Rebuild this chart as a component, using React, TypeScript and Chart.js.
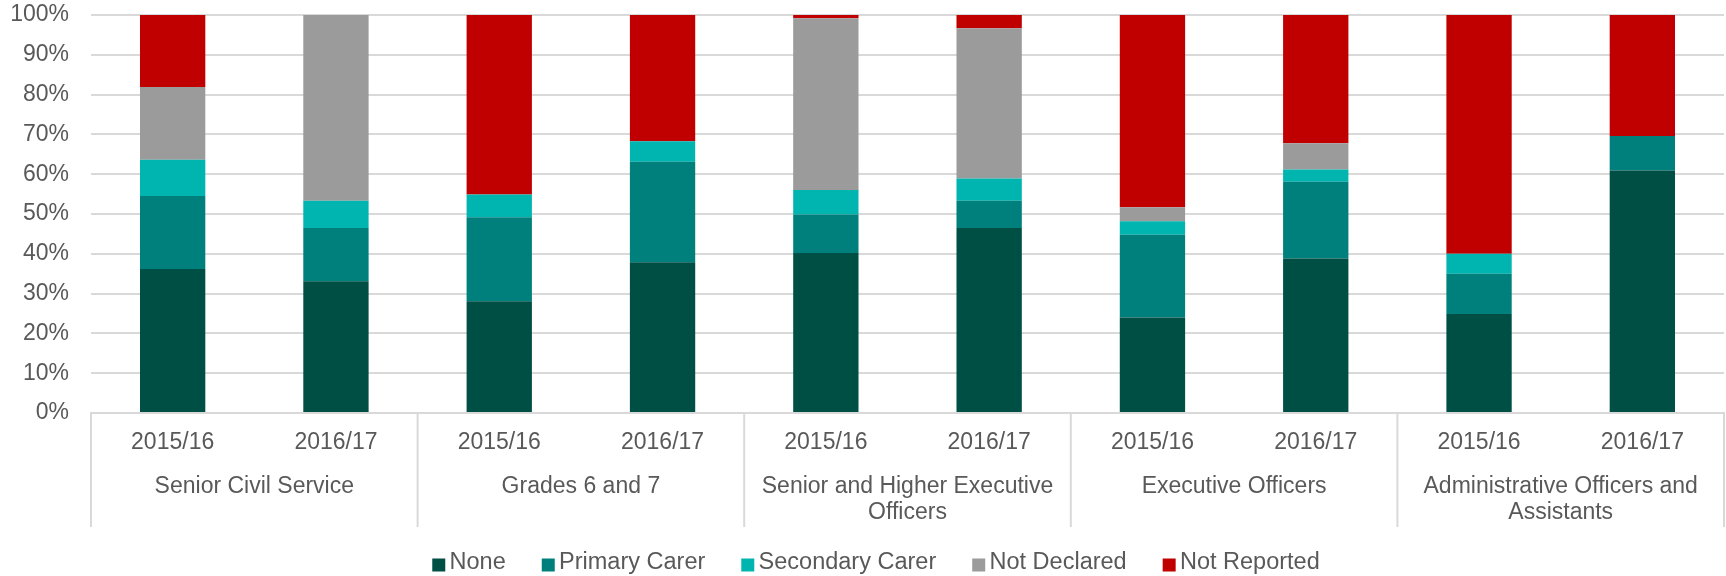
import React, { useEffect, useRef } from 'react';
import { Chart, registerables } from 'chart.js';

Chart.register(...registerables);

// ---------- data ----------
const years: string[] = [
  '2015/16', '2016/17', '2015/16', '2016/17', '2015/16',
  '2016/17', '2015/16', '2016/17', '2015/16', '2016/17',
];
const groups: string[][] = [
  ['Senior Civil Service'],
  ['Grades 6 and 7'],
  ['Senior and Higher Executive', 'Officers'],
  ['Executive Officers'],
  ['Administrative Officers and', 'Assistants'],
];
const seriesNames: string[] = ['None', 'Primary Carer', 'Secondary Carer', 'Not Declared', 'Not Reported'];
const seriesColors: string[] = ['#004F45', '#00807D', '#00B5B0', '#9B9B9B', '#C00000'];

const none: number[] = [36.2, 33.1, 28.1, 37.9, 40.2, 46.5, 24.0, 38.8, 24.9, 60.9];
const primaryCarer: number[] = [18.3, 13.4, 21.1, 25.2, 9.7, 6.8, 20.8, 19.3, 10.1, 8.7];
const secondaryCarer: number[] = [9.1, 6.8, 5.7, 5.2, 6.1, 5.6, 3.4, 3.1, 5.0, 0];
const notDeclared: number[] = [18.3, 46.7, 0, 0, 43.2, 37.8, 3.5, 6.6, 0, 0];
const notReported: number[] = [18.1, 0, 45.1, 31.7, 0.8, 3.3, 48.3, 32.2, 60.0, 30.4];

const yTicks: number[] = [0, 10, 20, 30, 40, 50, 60, 70, 80, 90, 100];

const seriesValues: number[][] = [none, primaryCarer, secondaryCarer, notDeclared, notReported];

const FONT = '"Liberation Sans", Arial, Helvetica, sans-serif';
const TEXT = '#595959';
const GRID = '#D9D9D9';

const groupSeparators = {
  id: 'groupSeparators',
  afterDraw(chart: any) {
    const xs = chart.scales.x;
    const x2 = chart.scales.x2;
    const ctx = chart.ctx;
    const n = groups.length;
    ctx.save();
    ctx.strokeStyle = GRID;
    ctx.lineWidth = 2;
    for (let i = 0; i <= n; i++) {
      const px = xs.left + (xs.width * i) / n;
      ctx.beginPath();
      ctx.moveTo(px, xs.top);
      ctx.lineTo(px, x2.bottom);
      ctx.stroke();
    }
    ctx.restore();
  },
};

const customLegend = {
  id: 'customLegend',
  afterDraw(chart: any) {
    const ctx = chart.ctx;
    const box = 13;
    const gapBoxText = 4.3;
    const gapItems = 36;
    ctx.save();
    ctx.font = `23.5px ${FONT}`;
    const widths = seriesNames.map((s) => ctx.measureText(s).width);
    const total =
      widths.reduce((a, b) => a + b, 0) + seriesNames.length * (box + gapBoxText) + (seriesNames.length - 1) * gapItems;
    let x = chart.width / 2 + 13 - total / 2;
    const baseline = chart.height - 7.5;
    ctx.textBaseline = 'alphabetic';
    ctx.textAlign = 'left';
    seriesNames.forEach((name, i) => {
      ctx.fillStyle = seriesColors[i];
      ctx.fillRect(x, baseline - 10, box, box);
      x += box + gapBoxText;
      ctx.fillStyle = TEXT;
      ctx.fillText(name, x, baseline);
      x += widths[i] + gapItems;
    });
    ctx.restore();
  },
};

export default function App() {
  const ref = useRef<HTMLCanvasElement | null>(null);

  useEffect(() => {
    if (!ref.current) return;
    Chart.defaults.font.family = FONT;
    const chart = new Chart(ref.current, {
      type: 'bar',
      data: {
        labels: years,
        datasets: seriesNames.map((name, i) => ({
          label: name,
          data: seriesValues[i],
          backgroundColor: seriesColors[i],
          borderWidth: 0,
          barPercentage: 0.4,
          categoryPercentage: 1,
        })),
      },
      options: {
        animation: false,
        responsive: false,
        layout: { padding: { top: 15, left: 0, right: 2, bottom: 49 } },
        plugins: {
          legend: { display: false },
          tooltip: { enabled: false },
        },
        scales: {
          x: {
            type: 'category',
            stacked: true,
            position: 'bottom',
            weight: 0,
            offset: true,
            grid: { display: false, drawTicks: false },
            border: { display: true, color: GRID, width: 2 },
            ticks: {
              color: TEXT,
              font: { size: 23, family: FONT },
              padding: 16,
              maxRotation: 0,
              autoSkip: false,
            },
            afterFit: (scale: any) => {
              scale.height = 44;
            },
          },
          x2: {
            type: 'category',
            labels: groups as any,
            position: 'bottom',
            weight: 1,
            offset: true,
            grid: { display: false, drawTicks: false },
            border: { display: false },
            ticks: {
              color: TEXT,
              font: { size: 23, family: FONT, lineHeight: 26.5 / 23 },
              padding: 16,
              maxRotation: 0,
              autoSkip: false,
            },
            afterFit: (scale: any) => {
              scale.height = 70;
            },
          },
          y: {
            stacked: true,
            min: 0,
            max: 100,
            afterBuildTicks: (scale: any) => {
              scale.ticks = yTicks.map((v) => ({ value: v }));
            },
            grid: { color: GRID, lineWidth: 2, drawTicks: false },
            border: { display: false },
            ticks: {
              color: TEXT,
              font: { size: 23, family: FONT },
              padding: 22,
              callback: (v: any) => `${v}%`,
            },
            afterFit: (scale: any) => {
              scale.width = 91;
              scale.paddingTop = 0;
              scale.paddingBottom = 0;
            },
          },
        },
      },
      plugins: [groupSeparators, customLegend],
    } as any);
    return () => chart.destroy();
  }, []);

  return (
    <div style={{ position: 'fixed', left: 0, top: 0, width: 1726, height: 576, background: '#fff' }}>
      <canvas ref={ref} width={1726} height={576} style={{ display: 'block' }} />
    </div>
  );
}
